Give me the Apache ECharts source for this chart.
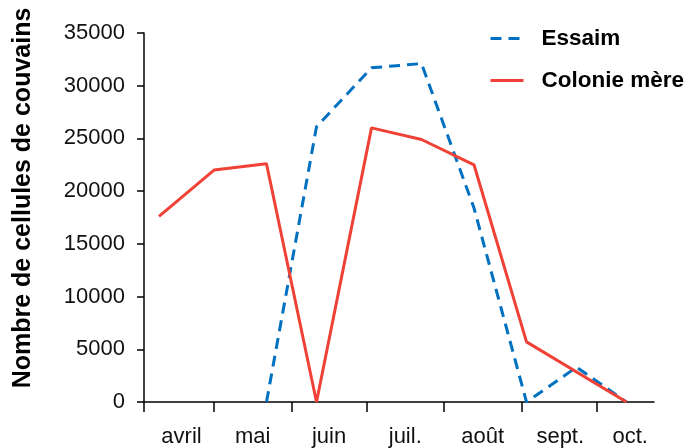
<!DOCTYPE html>
<html>
<head>
<meta charset="utf-8">
<script src="https://cdn.jsdelivr.net/npm/echarts@6/dist/echarts.min.js"></script>
<style>
  html, body { margin: 0; padding: 0; background: #fff; }
  #chart { width: 686px; height: 448px; }
</style>
</head>
<body>
<div id="chart"></div>
<script>
// Days counted from 1 April
const monthLabels = ['avril', 'mai', 'juin', 'juil.', 'août', 'sept.', 'oct.'];
const monthLabelDays = [17, 45.5, 76, 106.5, 137.5, 168.5, 196.5];
const monthTickDays = [2, 30, 61, 91, 122, 153, 183];

const essaimDays = [51, 71, 93, 113, 134, 155, 175, 195];
const essaimValues = [0, 26100, 31700, 32100, 18400, 0, 3300, 0];

const colonieDays = [8, 30, 51, 71, 93, 113, 134, 155, 195];
const colonieValues = [17600, 22000, 22600, 0, 26000, 24900, 22500, 5700, 0];

const yTitle = 'Nombre de cellules de couvains';

const FONT = "'Liberation Sans', Arial, Helvetica, sans-serif";
const chart = echarts.init(document.getElementById('chart'), null, { renderer: 'canvas' });

const pairs = (xs, ys) => xs.map((x, i) => [x, ys[i]]);

chart.setOption({
  animation: false,
  backgroundColor: '#ffffff',
  grid: { left: 144, right: 32, top: 33, bottom: 43.5 },
  legend: {
    orient: 'vertical',
    left: 484,
    top: 22,
    itemWidth: 33,
    itemHeight: 14,
    itemGap: 19,
    itemStyle: { color: 'transparent', borderWidth: 0, opacity: 0 },
    lineStyle: { width: 3 },
    textStyle: { fontFamily: FONT, fontSize: 22.5, fontWeight: 'bold', color: '#000', padding: [0, 0, 0, 13] },
    data: ['Essaim', 'Colonie mère']
  },
  xAxis: {
    type: 'value',
    min: 2,
    max: 206,
    splitLine: { show: false },
    axisLine: { show: true, lineStyle: { color: '#000', width: 1.5 } },
    axisTick: { show: true, customValues: monthTickDays, length: 10, lineStyle: { color: '#000', width: 1.5 } },
    axisLabel: {
      customValues: monthLabelDays,
      formatter: function (v) { const i = monthLabelDays.indexOf(v); return i >= 0 ? monthLabels[i] : ''; },
      fontFamily: FONT, fontSize: 22, color: '#111', margin: 24
    }
  },
  yAxis: {
    type: 'value',
    min: 0,
    max: 35000,
    interval: 5000,
    splitLine: { show: false },
    axisLine: { show: true, lineStyle: { color: '#000', width: 1.5 } },
    axisTick: { show: true, length: 7, lineStyle: { color: '#000', width: 1.5 } },
    axisLabel: { fontFamily: FONT, fontSize: 22, color: '#111', margin: 19, formatter: function (v) { return String(v); } }
  },
  graphic: [{
    type: 'text',
    x: 23,
    y: 198,
    rotation: Math.PI / 2,
    style: {
      text: yTitle,
      font: 'bold 25px ' + FONT,
      fill: '#000',
      textAlign: 'center',
      textVerticalAlign: 'middle'
    }
  }],
  series: [
    {
      name: 'Essaim',
      type: 'line',
      symbol: 'none',
      data: pairs(essaimDays, essaimValues),
      lineStyle: { color: '#0070c0', width: 3, type: [11, 7] },
      itemStyle: { color: '#0070c0' },
      z: 2
    },
    {
      name: 'Colonie mère',
      type: 'line',
      symbol: 'none',
      data: pairs(colonieDays, colonieValues),
      lineStyle: { color: '#ef4136', width: 3 },
      itemStyle: { color: '#ef4136' },
      z: 3
    }
  ]
});
</script>
</body>
</html>
